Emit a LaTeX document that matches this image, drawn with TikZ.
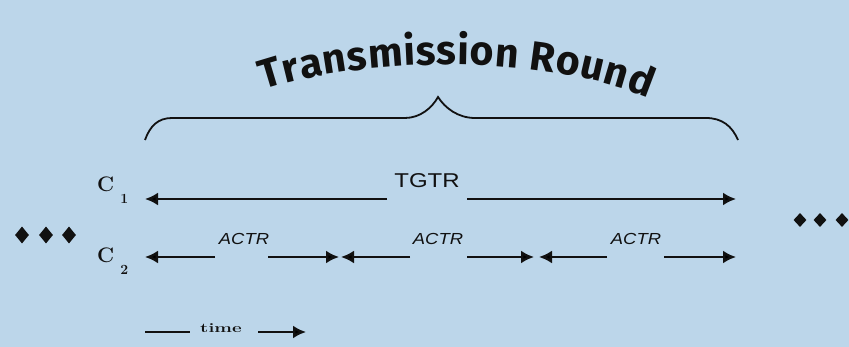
\documentclass[tikz,border=0pt]{standalone}
\usepackage{fontspec}
\usetikzlibrary{arrows.meta,decorations.text,shapes.geometric}
\newfontfamily\sansf{Liberation Sans}
\newfontfamily\titlefont{Fira Sans}
\definecolor{bgblue}{RGB}{188,214,234}
\definecolor{ink}{RGB}{17,17,17}
\tikzset{
  arr/.style={draw=ink,line width=2.4pt,-{Latex[length=13pt,width=13pt]}},
  plain/.style={draw=ink,line width=2.4pt},
  brace/.style={draw=ink,line width=1.8pt},
  clabel/.style={inner sep=0pt,text=ink,font=\bfseries\fontsize{21}{21}\selectfont},
  tgtrlbl/.style={inner sep=0pt,text=ink,font=\sansf\fontsize{20}{20}\selectfont,xscale=1.2},
  actrlbl/.style={inner sep=0pt,text=ink,font=\sansf\itshape\fontsize{16}{16}\selectfont,xscale=1.15},
  timelbl/.style={inner sep=0pt,text=ink,font=\bfseries\fontsize{13}{13}\selectfont,xscale=1.45},
  dotl/.style={diamond,fill=ink,inner sep=0pt,minimum width=14pt,minimum height=17pt},
  dotr/.style={diamond,fill=ink,inner sep=0pt,minimum width=13pt,minimum height=14pt}
}
\begin{document}
\begin{tikzpicture}[x=1pt,y=-1pt]
\fill[bgblue] (0,0) rectangle (849,347);
\useasboundingbox (0,0) rectangle (849,347);
% title
\path[decorate,decoration={text along path,text color=ink,
  text={|\titlefont\bfseries\fontsize{41}{41}\selectfont|Transmission Round},
  text align=fit to path}]
  (264,90) .. controls (365,56) and (545,54) .. (648,98);
% brace
\draw[brace] (145,140) .. controls (150,126) and (158,118) .. (172,118)
  -- (405,118) .. controls (420,118) and (432,108) .. (438,97)
  .. controls (445,108) and (458,118) .. (475,118)
  -- (706,118) .. controls (722,118) and (732,126) .. (738,140);
% labels C1, C2
\node[clabel,anchor=west] (c1) at (97,190) {C\kern6pt\raisebox{-12pt}{\fontsize{14}{14}\selectfont 1}};
\node[clabel,anchor=west] (c2) at (97,261) {C\kern6pt\raisebox{-12pt}{\fontsize{14}{14}\selectfont 2}};
% C1 row
\node[tgtrlbl] (tgtr) at (427,181) {TGTR};
\coordinate (t1l) at (145,199);
\coordinate (t1a) at (387,199);
\coordinate (t1b) at (467,199);
\coordinate (t1r) at (736,199);
\draw[arr] (t1a) -- (t1l);
\draw[arr] (t1b) -- (t1r);
% C2 row
\node[actrlbl] (actr1) at (244,239) {ACTR};
\node[actrlbl] (actr2) at (438,239) {ACTR};
\node[actrlbl] (actr3) at (636,239) {ACTR};
\coordinate (a1l) at (145,257);
\coordinate (a1a) at (215,257);
\coordinate (a1b) at (268,257);
\coordinate (a1r) at (339,257);
\coordinate (a2l) at (341,257);
\coordinate (a2a) at (410,257);
\coordinate (a2b) at (467,257);
\coordinate (a2r) at (534,257);
\coordinate (a3l) at (539,257);
\coordinate (a3a) at (607,257);
\coordinate (a3b) at (664,257);
\coordinate (a3r) at (736,257);
\draw[arr] (a1a) -- (a1l);
\draw[arr] (a1b) -- (a1r);
\draw[arr] (a2a) -- (a2l);
\draw[arr] (a2b) -- (a2r);
\draw[arr] (a3a) -- (a3l);
\draw[arr] (a3b) -- (a3r);
% time
\node[timelbl] (time) at (221,328) {time};
\coordinate (tm1) at (145,332);
\coordinate (tm2) at (190,332);
\coordinate (tm3) at (258,332);
\coordinate (tm4) at (306,332);
\draw[plain] (tm1) -- (tm2);
\draw[arr] (tm3) -- (tm4);
% dots
\node[dotl] (dl1) at (22,235) {};
\node[dotl] (dl2) at (46,235) {};
\node[dotl] (dl3) at (69,235) {};
\node[dotr] (dr1) at (800,220) {};
\node[dotr] (dr2) at (820,220) {};
\node[dotr] (dr3) at (842,220) {};
\end{tikzpicture}
\end{document}
